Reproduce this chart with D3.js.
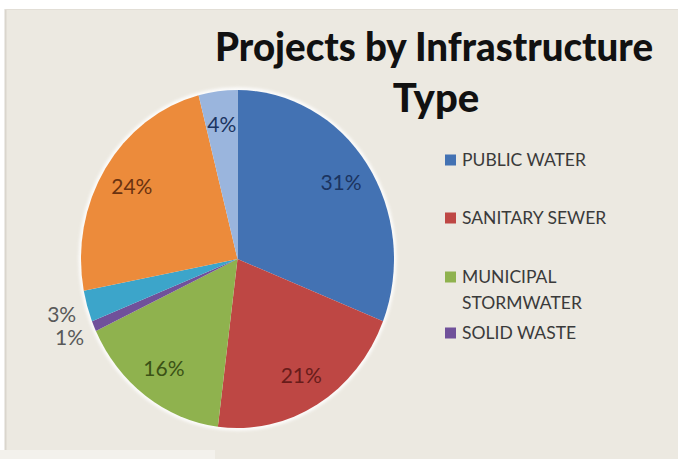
<!DOCTYPE html>
<html>
<head>
<meta charset="utf-8">
<script src="https://cdn.jsdelivr.net/npm/d3@7"></script>
<style>
  html, body { margin: 0; padding: 0; background: #ffffff; }
  svg { display: block; }
</style>
</head>
<body>
<svg id="chart" width="678" height="459"></svg>
<script>
// Share of projects per infrastructure type (percent), clockwise from 12 o'clock
const sliceValues = [31, 21, 16, 1, 3, 24, 4];
const sliceColors = ["#4372B3", "#BE4744", "#8FB24E", "#70519A", "#3CA5CA", "#EC8B3B", "#9AB5DD"];
const sliceLabelColors = ["#1B3460", "#681C1A", "#3B5216", "#595959", "#595959", "#6A3210", "#1B3460"];
const sliceLabelOutside = [false, false, false, true, true, false, false];
const legendLabels = [["PUBLIC WATER"], ["SANITARY SEWER"], ["MUNICIPAL", "STORMWATER"], ["SOLID WASTE"]];
const titleLines = ["Projects by Infrastructure", "Type"];

const W = 678, H = 459;
const svg = d3.select("#chart");

// chart area frame
svg.append("rect").attr("x", 0).attr("y", 0).attr("width", W).attr("height", H).attr("fill", "#ffffff");
svg.append("rect").attr("x", 5).attr("y", 9).attr("width", W - 5).attr("height", H - 9)
  .attr("fill", "#ECE9E1");
svg.append("line").attr("x1", 5.5).attr("x2", 5.5).attr("y1", 9).attr("y2", H)
  .attr("stroke", "#DAD6CD").attr("stroke-width", 2);
svg.append("line").attr("x1", 5).attr("x2", W).attr("y1", 9.5).attr("y2", 9.5)
  .attr("stroke", "#E2DED6").attr("stroke-width", 1);
svg.append("rect").attr("x", 0).attr("y", 450).attr("width", 215).attr("height", 9).attr("fill", "#F3F1EC");

// title
const title = svg.append("text")
  .attr("font-family", "Lato, 'Open Sans', sans-serif")
  .attr("font-weight", 900)
  .attr("font-size", 40)
  .attr("fill", "#111111")
  .attr("text-anchor", "middle");
title.append("tspan").attr("x", 434).attr("y", 61)
  .attr("textLength", 438).attr("lengthAdjust", "spacingAndGlyphs").text(titleLines[0]);
title.append("tspan").attr("x", 436).attr("y", 112).text(titleLines[1]);

// pie (slightly taller than wide)
const cx = 237.5, cy = 259, r = 156.5, ky = 1.08;

const pie = d3.pie().sort(null).value(d => d);
const arcs = pie(sliceValues);
const arc = d3.arc().innerRadius(0).outerRadius(r);

const defs = svg.append("defs");
defs.append("filter").attr("id", "halo").attr("x", "-10%").attr("y", "-10%")
  .attr("width", "120%").attr("height", "120%")
  .append("feGaussianBlur").attr("stdDeviation", 1.6);

const pieG = svg.append("g").attr("transform", `translate(${cx},${cy}) scale(1,${ky})`);
pieG.append("circle").attr("r", r + 2.5).attr("fill", "#ffffff").attr("opacity", 0.85)
  .attr("filter", "url(#halo)");
pieG.selectAll("path.slice")
  .data(arcs)
  .join("path")
  .attr("class", "slice")
  .attr("d", arc)
  .attr("fill", (d, i) => sliceColors[i]);

// percentage labels
const inArc = d3.arc().innerRadius(r * 0.8).outerRadius(r * 0.8);
const outArc = d3.arc().innerRadius(r * 1.17).outerRadius(r * 1.17);
svg.append("g").attr("transform", `translate(${cx},${cy})`)
  .selectAll("text")
  .data(arcs)
  .join("text")
  .attr("x", (d, i) => (sliceLabelOutside[i] ? outArc : inArc).centroid(d)[0])
  .attr("y", (d, i) => (sliceLabelOutside[i] ? outArc : inArc).centroid(d)[1] * ky)
  .attr("dy", "0.35em")
  .attr("text-anchor", "middle")
  .attr("font-family", "Lato, 'Open Sans', sans-serif")
  .attr("font-size", 21)
  .attr("fill", (d, i) => sliceLabelColors[i])
  .text(d => d.data + "%");

// legend
const legendRowY = [160, 218, 277, 333];
const legend = svg.append("g")
  .attr("font-family", "Lato, 'Open Sans', sans-serif")
  .attr("font-size", 17.5)
  .attr("fill", "#3A3A3A");
legendLabels.forEach((lines, i) => {
  const y = legendRowY[i];
  legend.append("rect").attr("x", 445).attr("y", y - 5.5).attr("width", 11).attr("height", 11)
    .attr("fill", sliceColors[i]);
  lines.forEach((line, j) => {
    legend.append("text").attr("x", 462).attr("y", y + j * 26).attr("dy", "0.36em").text(line);
  });
});
</script>
</body>
</html>
